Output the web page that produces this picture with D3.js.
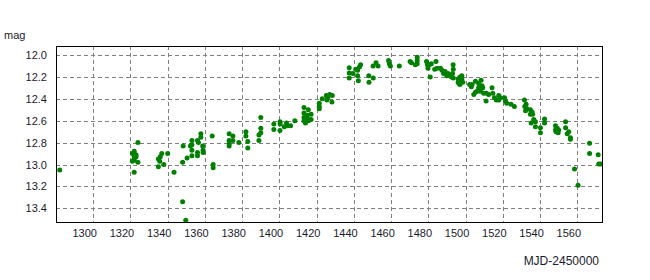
<!DOCTYPE html>
<html>
<head>
<meta charset="utf-8">
<script src="https://cdn.jsdelivr.net/npm/d3@7"></script>
<style>
  body { margin: 0; background: #fff; }
  text { font-family: "Liberation Sans", Arial, sans-serif; fill: #1a1a2e; }
</style>
</head>
<body>
<svg id="chart" width="650" height="280"></svg>
<script>
// observation dates (MJD-2450000) and magnitudes
const mjd = [
  1282, 1321, 1322, 1322, 1323, 1322, 1321, 1323, 1322, 1324, 1324, 1322,
  1336.8, 1336, 1335, 1335.7, 1337.9, 1335, 1340, 1343.4, 1348, 1349.7, 1348.3, 1348,
  1350.4, 1352.2, 1353, 1353, 1353, 1353, 1356, 1356.5, 1356, 1356, 1357.8, 1357.8,
  1358.8, 1359, 1359, 1363.9, 1364.4, 1364.4, 1373, 1375, 1373, 1373, 1373, 1375,
  1378.2, 1382, 1382, 1383, 1383, 1390, 1390, 1390, 1389, 1389, 1397, 1397,
  1400.3, 1400.4, 1400.3, 1402.6, 1403.8, 1404.4, 1406, 1408.3, 1413.2, 1415.5, 1413.2, 1415,
  1417, 1413.2, 1415, 1417, 1413.2, 1414, 1415.6, 1421.4, 1421.4, 1421.4, 1423, 1425.2,
  1426, 1427, 1428.4, 1428.2, 1425.5, 1437.5, 1437.5, 1437.5, 1439.5, 1441, 1442, 1443,
  1443.6, 1442, 1442.4, 1448, 1448.1, 1450.4, 1450.3, 1451.9, 1453, 1458.6, 1459, 1459.6,
  1464.4, 1470.2, 1470.9, 1474, 1474, 1473, 1474, 1479, 1479.5, 1479.8, 1481, 1480.5,
  1481.6, 1483.4, 1484.1, 1484.7, 1486.5, 1487.3, 1488.2, 1489, 1489.9, 1490.6, 1491.3, 1492.4,
  1493.3, 1493.4, 1493, 1493.4, 1496, 1497, 1497.5, 1498, 1496.5, 1498.5, 1497, 1496,
  1498, 1502.2, 1503.1, 1503.5, 1505.3, 1507, 1508.3, 1508.8, 1507, 1506.2, 1505.3, 1504.4,
  1508, 1509.2, 1509.7, 1511.2, 1512.4, 1514.2, 1514.6, 1511, 1515.5, 1516.5, 1517.8, 1517.8,
  1518.7, 1520.9, 1521.4, 1522.1, 1524.4, 1526.2, 1531.6, 1532.5, 1531.8, 1532.2, 1533, 1534.8,
  1535.7, 1534.8, 1536, 1536.6, 1535.2, 1537.5, 1537.5, 1540.2, 1540.2, 1542.4, 1542.4, 1548.3,
  1548.3, 1549.2, 1550, 1549.7, 1548.6, 1553.7, 1553.7, 1555.4, 1554.6, 1556.3, 1556.3, 1566.6,
  1566.6, 1558.5, 1560.4, 1571.2, 1571.5, 1572.5
];
const mag = [
  13.05, 12.90, 12.92, 12.94, 12.93, 12.96, 12.97, 12.91, 12.88, 12.80, 12.98, 13.07,
  12.90, 12.93, 12.95, 12.97, 13.00, 13.02, 12.90, 13.07, 13.34, 13.51, 12.83, 12.98,
  12.94, 12.83, 12.78, 12.82, 12.87, 12.92, 12.78, 12.80, 12.89, 12.92, 12.72, 12.75,
  12.83, 12.87, 12.89, 12.74, 13.00, 13.03, 12.72, 12.74, 12.78, 12.81, 12.83, 12.78,
  12.80, 12.70, 12.74, 12.79, 12.85, 12.57, 12.67, 12.71, 12.73, 12.78, 12.63, 12.68,
  12.61, 12.63, 12.69, 12.655, 12.62, 12.645, 12.645, 12.60, 12.48, 12.50, 12.53, 12.55,
  12.54, 12.57, 12.58, 12.59, 12.60, 12.62, 12.60, 12.44, 12.47, 12.49, 12.40, 12.37,
  12.39, 12.36, 12.37, 12.43, 12.41, 12.116, 12.165, 12.21, 12.17, 12.13, 12.14, 12.11,
  12.09, 12.19, 12.235, 12.19, 12.25, 12.21, 12.10, 12.07, 12.10, 12.05, 12.08, 12.10,
  12.10, 12.06, 12.07, 12.02, 12.05, 12.09, 12.08, 12.06, 12.09, 12.12, 12.20, 12.09,
  12.08, 12.13, 12.06, 12.12, 12.12, 12.14, 12.17, 12.15, 12.19, 12.17, 12.18, 12.20,
  12.09, 12.13, 12.17, 12.21, 12.22, 12.20, 12.24, 12.22, 12.26, 12.25, 12.27, 12.25,
  12.19, 12.27, 12.29, 12.27, 12.24, 12.26, 12.23, 12.28, 12.30, 12.33, 12.34, 12.36,
  12.33, 12.30, 12.35, 12.35, 12.36, 12.30, 12.35, 12.42, 12.39, 12.41, 12.37, 12.41,
  12.39, 12.39, 12.42, 12.44, 12.45, 12.47, 12.41, 12.45, 12.47, 12.51, 12.49, 12.50,
  12.52, 12.54, 12.54, 12.59, 12.62, 12.61, 12.655, 12.665, 12.71, 12.585, 12.62, 12.645,
  12.685, 12.67, 12.685, 12.71, 12.70, 12.61, 12.665, 12.70, 12.72, 12.755, 12.77, 12.807,
  12.90, 13.04, 13.19, 12.91, 12.995, 12.995
];
const xTicks = [1300, 1320, 1340, 1360, 1380, 1400, 1420, 1440, 1460, 1480, 1500, 1520, 1540, 1560];
const yTicks = [12.0, 12.2, 12.4, 12.6, 12.8, 13.0, 13.2, 13.4];

const svg = d3.select('#chart');
const plotL = 56, plotR = 603, plotT = 46, plotB = 223;

const x = d3.scaleLinear().domain([1280, 1573.8]).range([plotL, plotR]);
const y = d3.scaleLinear().domain([11.918, 13.534]).range([plotT, plotB]);

// grid
const grid = svg.append('g').attr('class', 'grid')
    .attr('stroke', '#808080').attr('stroke-width', 1).attr('stroke-dasharray', '4,3');
grid.selectAll('line.gx').data(xTicks).join('line')
    .attr('class', 'gx')
    .attr('x1', d => Math.round(x(d)) + 0.5).attr('x2', d => Math.round(x(d)) + 0.5)
    .attr('y1', plotT).attr('y2', plotB);
grid.selectAll('line.gy').data(yTicks).join('line')
    .attr('class', 'gy')
    .attr('x1', plotL).attr('x2', plotR)
    .attr('y1', d => Math.round(y(d)) + 0.5).attr('y2', d => Math.round(y(d)) + 0.5);

// points
const pts = mjd.map((d, i) => ({t: d, m: mag[i]}));
svg.append('g').selectAll('circle').data(pts).join('circle')
    .attr('cx', d => x(d.t))
    .attr('cy', d => y(d.m))
    .attr('r', 2.5)
    .attr('fill', '#008000');

// frame
svg.append('rect')
    .attr('x', plotL + 0.5).attr('y', plotT + 0.5)
    .attr('width', plotR - plotL - 1).attr('height', plotB - plotT - 1)
    .attr('fill', 'none').attr('stroke', '#000').attr('stroke-width', 1);

// tick labels
svg.append('g').selectAll('text').data(xTicks).join('text')
    .attr('x', d => x(d) - 8.5)
    .attr('y', 237)
    .attr('text-anchor', 'middle')
    .attr('font-size', 11)
    .text(d => d);
svg.append('g').selectAll('text').data(yTicks).join('text')
    .attr('x', 47)
    .attr('y', d => y(d) + 4)
    .attr('text-anchor', 'end')
    .attr('font-size', 11)
    .text(d => d3.format('.1f')(d));

svg.append('text').attr('x', 4).attr('y', 39).attr('font-size', 11).text('mag');
svg.append('text').attr('x', 599).attr('y', 265).attr('text-anchor', 'end')
    .attr('font-size', 12).text('MJD-2450000');
</script>
</body>
</html>
